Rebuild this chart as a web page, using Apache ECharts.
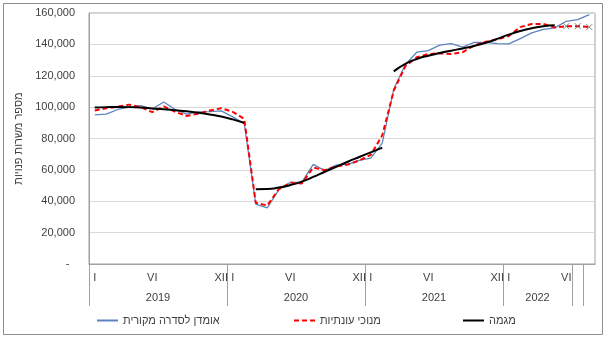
<!DOCTYPE html>
<html>
<head>
<meta charset="utf-8">
<script src="https://cdn.jsdelivr.net/npm/echarts@6/dist/echarts.min.js"></script>
<style>
  html, body { margin: 0; padding: 0; background: #fff; }
  #chart { width: 606px; height: 341px; }
</style>
</head>
<body>
<div id="chart"></div>
<script>
// Monthly job vacancies, Jan 2019 – Aug 2022
const monthLabels = [
  'I', '', '', '', '', 'VI', '', '', '', '', '', 'XII',
  'I', '', '', '', '', 'VI', '', '', '', '', '', 'XII',
  'I', '', '', '', '', 'VI', '', '', '', '', '', 'XII',
  'I', '', '', '', '', 'VI', '', ''
];
const yearLabels = ['2019', '2020', '2021', '2022'];
const yearSpans = [12, 12, 12, 6];
const trailingCells = 2;

const seriesNames = ['אומדן לסדרה מקורית', 'מנוכי עונתיות', 'מגמה'];
const yAxisTitle = 'מספר משרות פנויות';

// original estimate
const originalSeries = [
  95000, 95500, 98500, 100000, 101000, 98800, 103300, 98500, 95500, 97000, 97200, 97600,
  93800, 89500, 38200, 35800, 47300, 52000, 52000, 63500, 59500, 63000, 63500, 66000,
  67500, 77000, 111500, 127000, 135000, 136000, 139500, 140500, 138300, 141300, 141300, 140500,
  140300, 143700, 147300, 149500, 150500, 154700, 155800, 159000
];
// seasonally adjusted
const adjustedSeries = [
  97800, 99300, 100300, 101600, 100000, 96800, 100500, 97000, 94400, 95800, 97800, 99300,
  97000, 92500, 39000, 37300, 47700, 51800, 51300, 61500, 59800, 62200, 63400, 66000,
  69500, 82000, 110500, 126000, 131800, 133800, 134300, 133800, 135000, 139300, 141700, 143200,
  145300, 151000, 153000, 153000, 150800, 151600, 151600, 151000
];
// months of the adjusted series that are still provisional (drawn with x marks)
const provisionalFrom = 41;

// trend, three separate pieces
const trendPieces = [
  { start: 0, values: [99800, 100000, 100100, 100000, 99700, 99200, 98700, 98000, 97300, 96400, 95300, 94000, 92200, 90000] },
  { start: 14, values: [47700, 47800, 48700, 50300, 52500, 55500, 58800, 62000, 65200, 68200, 71200, 74200] },
  { start: 26, values: [122800, 127600, 130700, 132800, 134500, 136000, 137400, 139000, 141000, 143500, 146200, 148500, 150300, 151600, 152200] }
];

const yTicks = { min: 0, max: 160000, step: 20000 };

// ---- derived axis helpers ----
const nCats = monthLabels.length;
const groupEdges = [0];
yearSpans.forEach(s => groupEdges.push(groupEdges[groupEdges.length - 1] + s));
for (let k = 1; k <= trailingCells; k++) groupEdges.push(groupEdges[yearSpans.length] + k);
const yearCenters = yearSpans.map((s, i) => groupEdges[i] + s / 2);
const separatorTicks = groupEdges.slice(0, groupEdges.length - 1);

const FONT = 'Liberation Sans, Arial, sans-serif';
const TEXT = '#404040';

function padPiece(piece) {
  const arr = new Array(nCats).fill(null);
  piece.values.forEach((v, i) => { arr[piece.start + i] = v; });
  return arr;
}

const chart = echarts.init(document.getElementById('chart'), null, { renderer: 'canvas' });

const trendSeries = trendPieces.map(p => ({
  name: seriesNames[2],
  type: 'line',
  data: padPiece(p),
  symbol: 'none',
  smooth: true,
  connectNulls: false,
  lineStyle: { color: '#000000', width: 2 },
  itemStyle: { color: '#000000' },
  z: 4
}));

chart.setOption({
  animation: false,
  backgroundColor: '#ffffff',
  textStyle: { fontFamily: FONT },
  graphic: [{
    type: 'rect',
    shape: { x: 3.5, y: 3.5, width: 599, height: 331 },
    style: { fill: 'none', stroke: '#8c8c8c', lineWidth: 1 },
    silent: true
  }],
  grid: {
    left: 89, top: 13, width: 506, height: 251,
    show: true, borderColor: '#a0a0a0', borderWidth: 1, backgroundColor: 'transparent'
  },
  legend: [
    { data: [seriesNames[0]], left: 96, top: 315 },
    { data: [seriesNames[1]], left: 293, top: 315 },
    { data: [seriesNames[2]], left: 462, top: 315 }
  ].map(l => Object.assign(l, {
    itemWidth: 21, itemHeight: 10, padding: 0,
    itemStyle: { opacity: 0 },
    textStyle: { fontSize: 11, color: TEXT, fontFamily: FONT }
  })),
  xAxis: [
    {
      type: 'category',
      data: monthLabels,
      boundaryGap: true,
      axisLine: { show: true, lineStyle: { color: '#a0a0a0', width: 1 } },
      axisTick: { show: false },
      axisLabel: { interval: 0, fontSize: 11, color: TEXT, margin: 8, fontFamily: FONT },
      splitLine: { show: false }
    },
    {
      type: 'value',
      min: 0, max: nCats,
      position: 'bottom',
      axisLine: { show: false },
      splitLine: { show: false },
      axisTick: {
        show: true, customValues: separatorTicks, length: 42, inside: false,
        lineStyle: { color: '#a0a0a0', width: 1 }
      },
      axisLabel: {
        show: true, customValues: yearCenters, margin: 28, fontSize: 11, color: TEXT, fontFamily: FONT,
        formatter: v => {
          const idx = yearCenters.findIndex(c => Math.abs(c - v) < 1e-6);
          return idx >= 0 ? yearLabels[idx] : '';
        }
      }
    }
  ],
  yAxis: {
    type: 'value',
    min: yTicks.min, max: yTicks.max, interval: yTicks.step,
    name: yAxisTitle,
    nameLocation: 'middle',
    nameGap: 60,
    nameTextStyle: { fontSize: 11, color: TEXT, fontFamily: FONT },
    axisLine: { show: true, lineStyle: { color: '#a0a0a0', width: 1 } },
    axisTick: { show: false },
    splitLine: { show: true, lineStyle: { color: '#d9d9d9', width: 1 } },
    axisLabel: {
      fontSize: 11, color: TEXT, margin: 14, fontFamily: FONT,
      formatter: v => v === 0 ? '-\u2002' : v.toLocaleString('en-US')
    }
  },
  series: [
    {
      name: seriesNames[0],
      type: 'line',
      data: originalSeries,
      symbol: 'none',
      lineStyle: { color: '#5b84bd', width: 1.25 },
      itemStyle: { color: '#5b84bd' },
      z: 2
    },
    {
      name: seriesNames[1],
      type: 'line',
      data: adjustedSeries,
      symbol: 'none',
      lineStyle: { color: '#ff0000', width: 2, type: [5, 3] },
      itemStyle: { color: '#ff0000' },
      z: 3
    },
    {
      name: 'provisional',
      type: 'scatter',
      data: adjustedSeries.map((v, i) => i >= provisionalFrom ? v : null),
      symbol: 'path://M0,0L10,10M10,0L0,10',
      symbolSize: 6,
      itemStyle: { color: 'none', borderColor: '#666666', borderWidth: 1 },
      z: 6
    },
    ...trendSeries
  ]
});
</script>
</body>
</html>
